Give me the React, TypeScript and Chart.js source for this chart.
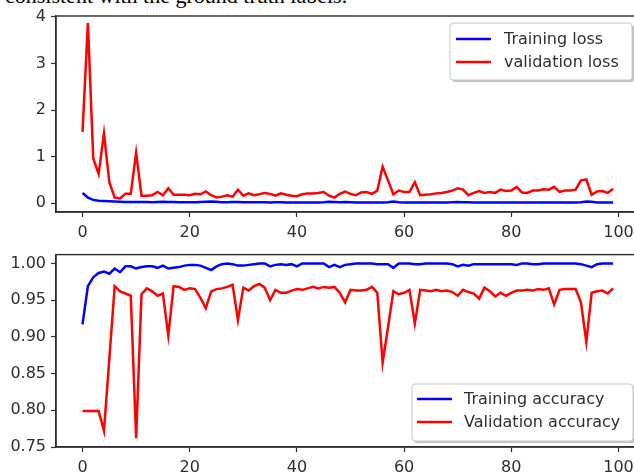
import React, { useEffect, useRef } from "react";
import { Chart, registerables } from "chart.js";

Chart.register(...registerables);

const trainingLoss = [
  0.22, 0.12, 0.07, 0.05, 0.045, 0.04, 0.035, 0.03, 0.025, 0.025,
  0.025, 0.025, 0.025, 0.02, 0.025, 0.03, 0.025, 0.025, 0.02, 0.02,
  0.02, 0.02, 0.025, 0.03, 0.035, 0.03, 0.02, 0.02, 0.025, 0.025,
  0.02, 0.02, 0.02, 0.02, 0.02, 0.015, 0.02, 0.02, 0.015, 0.015,
  0.015, 0.015, 0.015, 0.015, 0.015, 0.02, 0.03, 0.025, 0.02, 0.025,
  0.02, 0.015, 0.015, 0.015, 0.015, 0.015, 0.015, 0.02, 0.035, 0.02,
  0.015, 0.015, 0.015, 0.015, 0.015, 0.015, 0.015, 0.015, 0.015, 0.02,
  0.025, 0.02, 0.02, 0.015, 0.015, 0.015, 0.015, 0.015, 0.015, 0.015,
  0.015, 0.015, 0.015, 0.015, 0.015, 0.015, 0.015, 0.015, 0.015, 0.015,
  0.015, 0.015, 0.015, 0.02, 0.035, 0.03, 0.015, 0.015, 0.015, 0.015,
];

const validationLoss = [
  1.53, 3.87, 0.96, 0.63, 1.5, 0.45, 0.12, 0.1, 0.2, 0.2,
  1.08, 0.16, 0.16, 0.17, 0.24, 0.17, 0.32, 0.18, 0.18, 0.18,
  0.17, 0.2, 0.19, 0.25, 0.17, 0.12, 0.14, 0.17, 0.14, 0.29,
  0.16, 0.21, 0.17, 0.19, 0.22, 0.2, 0.16, 0.21, 0.18, 0.16,
  0.15, 0.19, 0.21, 0.21, 0.22, 0.24, 0.16, 0.12, 0.2, 0.25,
  0.2, 0.17, 0.23, 0.24, 0.2, 0.27, 0.78, 0.49, 0.19, 0.27,
  0.24, 0.24, 0.45, 0.17, 0.18, 0.19, 0.21, 0.22, 0.24, 0.27,
  0.32, 0.29, 0.17, 0.22, 0.26, 0.22, 0.24, 0.22, 0.29, 0.26,
  0.27, 0.35, 0.23, 0.22, 0.27, 0.27, 0.3, 0.29, 0.35, 0.24,
  0.27, 0.27, 0.29, 0.49, 0.51, 0.18, 0.25, 0.26, 0.22, 0.31,
];

const trainingAccuracy = [
  0.917, 0.969, 0.981, 0.987, 0.989, 0.986, 0.993, 0.988, 0.996, 0.996,
  0.993, 0.995, 0.996, 0.996, 0.994, 0.997, 0.993, 0.994, 0.995, 0.997,
  0.998, 0.998, 0.997, 0.994, 0.991, 0.996, 0.999, 1.0, 0.999, 0.997,
  0.997, 0.998, 0.999, 1.0, 1.0, 0.996, 0.998, 0.999, 0.998, 0.999,
  0.996, 1.0, 1.0, 1.0, 1.0, 1.0, 0.995, 0.998, 0.995, 0.998,
  0.999, 1.0, 1.0, 1.0, 1.0, 0.999, 0.999, 0.999, 0.994, 1.0,
  1.0, 1.0, 0.999, 0.999, 1.0, 1.0, 1.0, 1.0, 1.0, 0.999,
  0.996, 0.998, 0.997, 0.999, 0.999, 0.999, 0.999, 0.999, 0.999, 0.999,
  0.999, 0.998, 1.0, 1.0, 0.999, 0.999, 1.0, 1.0, 1.0, 1.0,
  1.0, 1.0, 1.0, 0.999, 0.997, 0.995, 0.999, 1.0, 1.0, 1.0,
];

const validationAccuracy = [
  0.799, 0.799, 0.799, 0.799, 0.772, 0.87, 0.969, 0.962, 0.959, 0.956,
  0.762, 0.958, 0.966, 0.962, 0.956, 0.959, 0.902, 0.969, 0.968, 0.964,
  0.966, 0.965, 0.953, 0.939, 0.962, 0.965, 0.966, 0.968, 0.971, 0.923,
  0.967, 0.963, 0.969, 0.972, 0.967, 0.95, 0.964, 0.96, 0.96, 0.963,
  0.965, 0.964, 0.966, 0.968, 0.966, 0.968, 0.967, 0.968, 0.96, 0.947,
  0.964, 0.963, 0.963, 0.964, 0.968, 0.96, 0.865, 0.913, 0.962, 0.958,
  0.96, 0.964, 0.918, 0.964, 0.963, 0.962, 0.964, 0.962, 0.963, 0.961,
  0.956, 0.964, 0.961, 0.959, 0.952, 0.967, 0.962, 0.955, 0.96, 0.956,
  0.96, 0.963, 0.963, 0.964, 0.963, 0.965, 0.964, 0.966, 0.944, 0.964,
  0.965, 0.965, 0.965, 0.947, 0.893, 0.96, 0.962, 0.963, 0.959, 0.966,
];

const xTicks = [0, 20, 40, 60, 80, 100];
const lossTicks = [0, 1, 2, 3, 4];
const accTicks = [0.75, 0.8, 0.85, 0.9, 0.95, 1.0];

const lossLabels = ["Training loss", "validation loss"];
const accLabels = ["Training accuracy", "Validation accuracy"];

const INK = "#2e2e2e";
const FONT = "'DejaVu Sans', sans-serif";

const toPoints = (arr: number[]) => arr.map((v, i) => ({ x: i, y: v }));

const framePlugin = {
  id: "frame",
  afterDraw(chart: any) {
    const { ctx, chartArea } = chart;
    ctx.save();
    ctx.strokeStyle = INK;
    ctx.lineWidth = 1.4;
    ctx.strokeRect(chartArea.left, chartArea.top, chartArea.right - chartArea.left, chartArea.bottom - chartArea.top);
    ctx.restore();
  },
};

const boxLegendPlugin = {
  id: "boxLegend",
  afterDraw(chart: any, _args: any, opts: any) {
    const { ctx, chartArea } = chart;
    const w = opts.width;
    const h = opts.height;
    const x = chartArea.right - opts.offsetRight - w;
    const y = opts.offsetTop != null ? chartArea.top + opts.offsetTop : chartArea.bottom - opts.offsetBottom - h;
    ctx.save();
    ctx.fillStyle = "rgba(120,120,120,0.45)";
    ctx.beginPath();
    ctx.roundRect(x + 2, y + 2, w, h, 3);
    ctx.fill();
    ctx.fillStyle = "#ffffff";
    ctx.strokeStyle = "#c8c8c8";
    ctx.lineWidth = 1;
    ctx.beginPath();
    ctx.roundRect(x, y, w, h, 3);
    ctx.fill();
    ctx.stroke();
    ctx.font = `${opts.fontSize}px ${FONT}`;
    ctx.textBaseline = "middle";
    ctx.textAlign = "left";
    chart.data.datasets.forEach((ds: any, i: number) => {
      const ry = y + opts.rows[i];
      ctx.strokeStyle = ds.borderColor;
      ctx.lineWidth = 2.5;
      ctx.beginPath();
      ctx.moveTo(x + opts.lineStart, ry);
      ctx.lineTo(x + opts.lineEnd, ry);
      ctx.stroke();
      ctx.fillStyle = INK;
      ctx.fillText(ds.label, x + opts.textX, ry + 1);
    });
    ctx.restore();
  },
};

function makeConfig(
  datasets: any[],
  yMin: number,
  yMax: number,
  yTicks: number[],
  fmt: (v: number) => string,
  padTop: number,
  xAxisHeight: number,
  legend: any
): any {
  return {
    type: "line",
    data: { datasets },
    plugins: [framePlugin, boxLegendPlugin],
    options: {
      animation: false,
      responsive: false,
      layout: { padding: { left: 0, right: 15, top: padTop, bottom: 0 } },
      elements: { point: { radius: 0 }, line: { borderWidth: 2.5, tension: 0 } },
      plugins: { legend: { display: false }, tooltip: { enabled: false }, boxLegend: legend },
      scales: {
        x: {
          type: "linear",
          min: -4.95,
          max: 104.95,
          afterBuildTicks: (axis: any) => {
            axis.ticks = xTicks.map((v) => ({ value: v }));
          },
          afterFit: (axis: any) => {
            axis.height = xAxisHeight;
          },
          grid: { drawOnChartArea: false, drawTicks: true, tickLength: 5, tickColor: INK, tickWidth: 1.2 },
          border: { display: true, color: INK, width: 1.4 },
          ticks: { color: INK, font: { family: FONT, size: 16 }, padding: 6, maxRotation: 0, autoSkip: false, callback: (v: any) => String(v) },
        },
        y: {
          type: "linear",
          min: yMin,
          max: yMax,
          afterBuildTicks: (axis: any) => {
            axis.ticks = yTicks.map((v) => ({ value: v }));
          },
          afterFit: (axis: any) => {
            axis.width = 56;
          },
          grid: { drawOnChartArea: false, drawTicks: true, tickLength: 5, tickColor: INK, tickWidth: 1.2 },
          border: { display: true, color: INK, width: 1.4 },
          ticks: { color: INK, font: { family: FONT, size: 16 }, padding: 5, autoSkip: false, callback: (v: any) => fmt(Number(v)) },
        },
      },
    },
  };
}

export default function App() {
  const topRef = useRef<HTMLCanvasElement>(null);
  const botRef = useRef<HTMLCanvasElement>(null);

  useEffect(() => {
    const top = new Chart(
      topRef.current!,
      makeConfig(
        [
          { label: lossLabels[0], data: toPoints(trainingLoss), borderColor: "#0000ff", backgroundColor: "#0000ff" },
          { label: lossLabels[1], data: toPoints(validationLoss), borderColor: "#ff0000", backgroundColor: "#ff0000" },
        ],
        -0.19,
        4.02,
        lossTicks,
        (v) => String(v),
        16,
        28,
        { width: 182, height: 57, offsetRight: 13, offsetTop: 7, rows: [16, 39], lineStart: 6, lineEnd: 41, textX: 54, fontSize: 16 }
      )
    );
    const bot = new Chart(
      botRef.current!,
      makeConfig(
        [
          { label: accLabels[0], data: toPoints(trainingAccuracy), borderColor: "#0000ff", backgroundColor: "#0000ff" },
          { label: accLabels[1], data: toPoints(validationAccuracy), borderColor: "#ff0000", backgroundColor: "#ff0000" },
        ],
        0.75,
        1.012,
        accTicks,
        (v) => v.toFixed(2),
        11,
        26,
        { width: 221, height: 57, offsetRight: 12, offsetBottom: 6, rows: [15, 38], lineStart: 5, lineEnd: 40, textX: 52, fontSize: 16 }
      )
    );
    return () => {
      top.destroy();
      bot.destroy();
    };
  }, []);

  return (
    <div style={{ position: "absolute", left: 0, top: 0, width: 634, height: 473, overflow: "hidden", background: "#fff" }}>
      <div
        style={{
          position: "absolute",
          left: 5,
          top: -17,
          fontFamily: "'Liberation Serif', serif",
          fontSize: 22,
          lineHeight: "normal",
          whiteSpace: "nowrap",
          color: "#000",
        }}
      >
        consistent with the ground truth labels.
      </div>
      <canvas ref={topRef} width={660} height={240} style={{ position: "absolute", left: 0, top: 0, width: 660, height: 240 }} />
      <canvas ref={botRef} width={660} height={233} style={{ position: "absolute", left: 0, top: 240, width: 660, height: 233 }} />
    </div>
  );
}
